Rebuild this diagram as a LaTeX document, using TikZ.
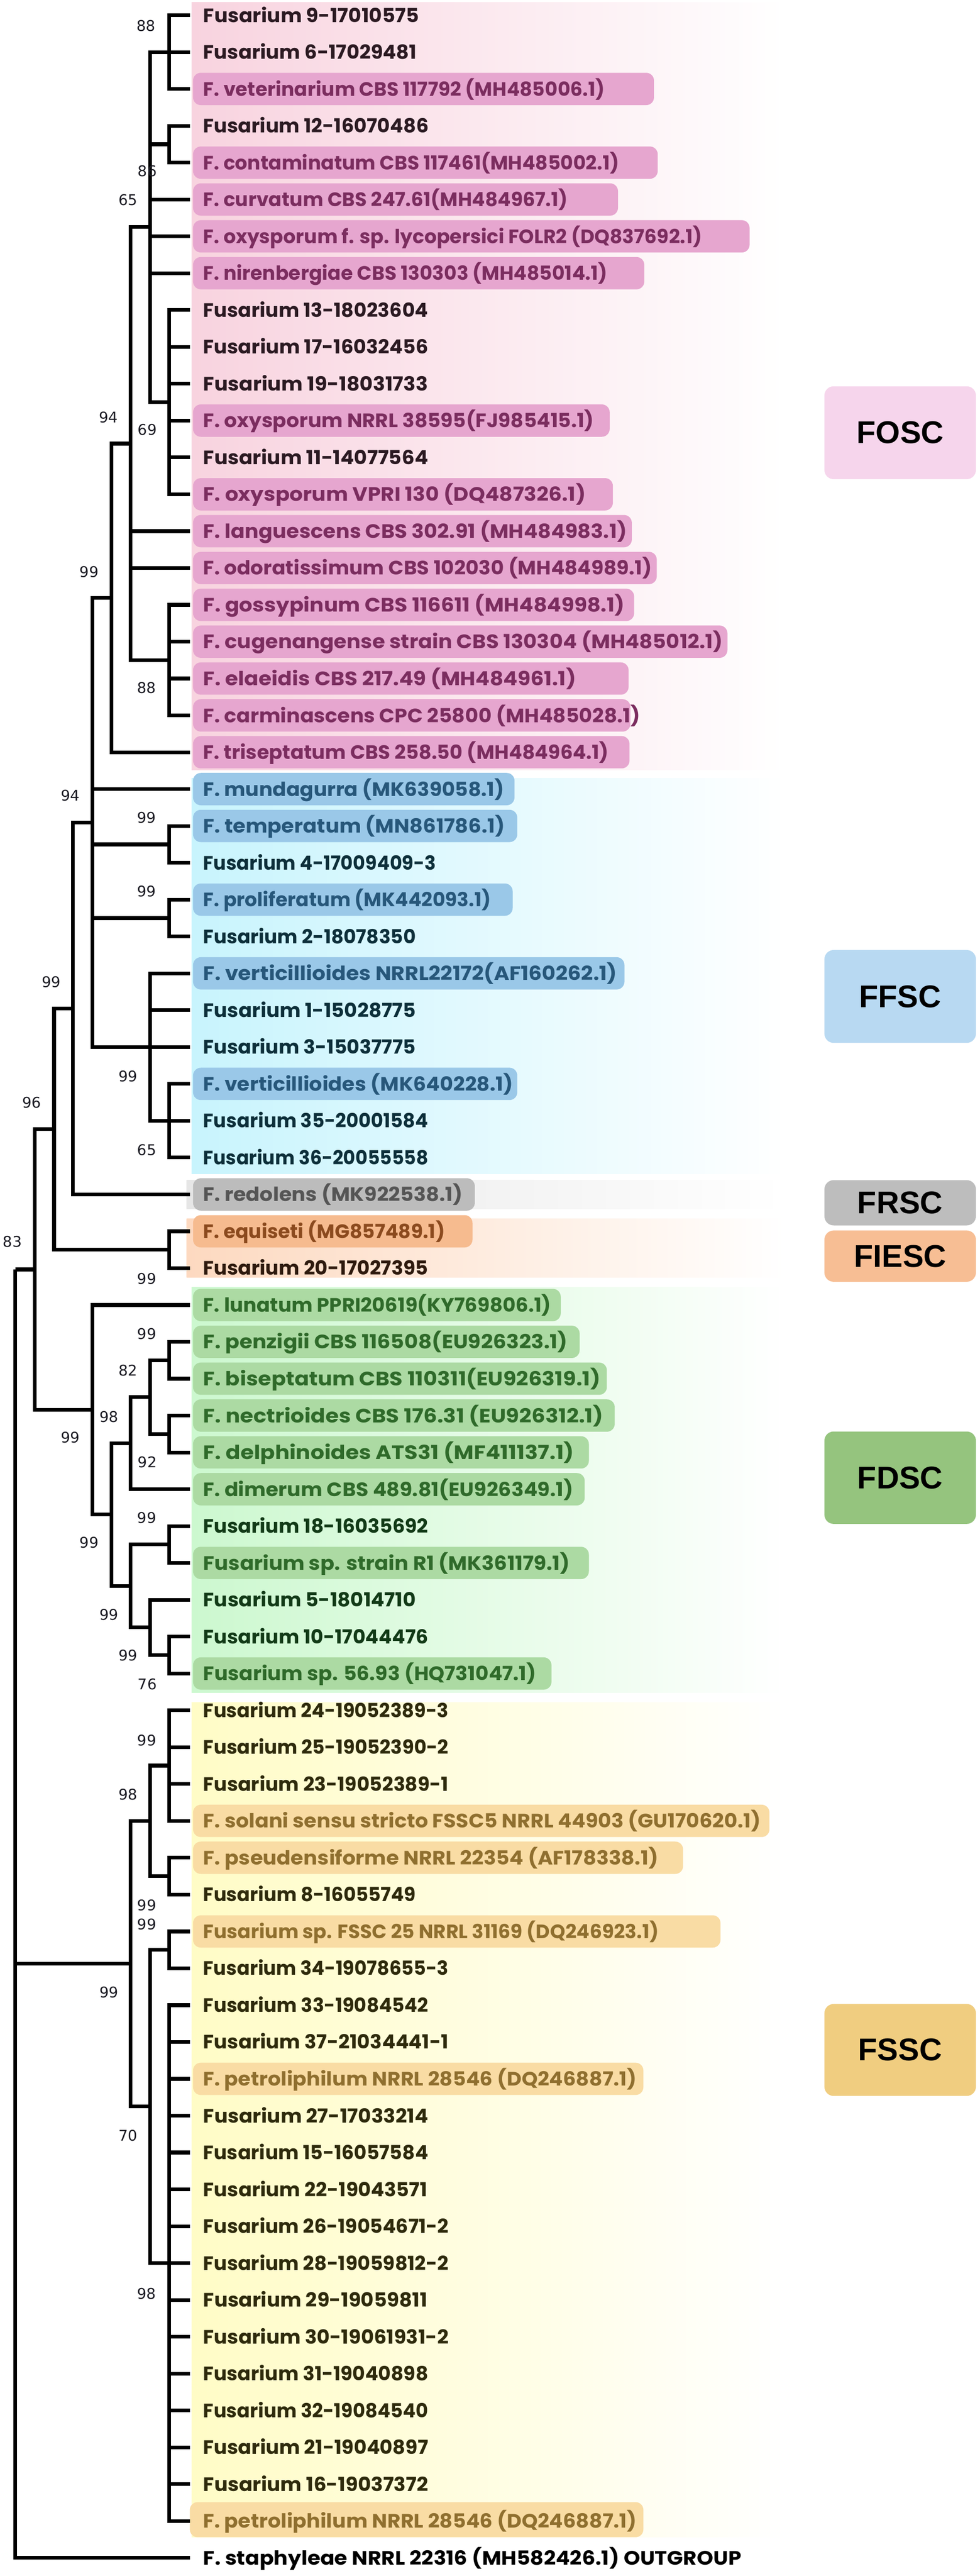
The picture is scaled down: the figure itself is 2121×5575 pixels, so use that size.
\documentclass[tikz,border=0pt]{standalone}
\usepackage{graphicx}
\usepackage{fontspec}
\newfontfamily\leaffont{Poppins}
\newfontfamily\numfont{DejaVu Sans}
\newfontfamily\grpfont{Liberation Sans}
\definecolor{bgFOSC}{HTML}{F8D3DF}
\definecolor{bgFFSC}{HTML}{C8F4FD}
\definecolor{bgFRSC}{HTML}{E6E6E6}
\definecolor{bgFIESC}{HTML}{FDD9C0}
\definecolor{bgFDSC}{HTML}{CCF8CF}
\definecolor{bgFSSC}{HTML}{FFFCC6}
\definecolor{pFOSC}{HTML}{E6A6CF}
\definecolor{pFFSC}{HTML}{9AC8E8}
\definecolor{pFRSC}{HTML}{BCBCBC}
\definecolor{pFIESC}{HTML}{F6BB8F}
\definecolor{pFDSC}{HTML}{ACDAA3}
\definecolor{pFSSC}{HTML}{F9DCA4}
\definecolor{tFOSC}{HTML}{7B2D5F}
\definecolor{tFFSC}{HTML}{27577A}
\definecolor{tFRSC}{HTML}{555555}
\definecolor{tFIESC}{HTML}{8B4A1E}
\definecolor{tFDSC}{HTML}{2F6A2A}
\definecolor{tFSSC}{HTML}{8F6F2F}
\definecolor{kFOSC}{HTML}{2B1A22}
\definecolor{kFFSC}{HTML}{0D2F3A}
\definecolor{kFIESC}{HTML}{2E1A0E}
\definecolor{kFDSC}{HTML}{123A17}
\definecolor{kFSSC}{HTML}{2E2A0C}
\definecolor{gFOSCc}{HTML}{F6D5EC}
\definecolor{gFFSCc}{HTML}{B8D9F2}
\definecolor{gFRSCc}{HTML}{BDBDBD}
\definecolor{gFIESCc}{HTML}{F7BE94}
\definecolor{gFDSCc}{HTML}{95C47E}
\definecolor{gFSSCc}{HTML}{F0CD80}
\definecolor{numc}{HTML}{1A1A22}
% natural-width label
\newcommand{\leafrow}[3]{\node[lbl, text=#2] (t#1) at (440,{33+(#1-1)*79.75+15}) {#3};}
% label set to a given width
\newcommand{\leafw}[4]{\node[lbl, text=#2] (t#1) at (440,{33+(#1-1)*79.75+15}) {\resizebox{#3pt}{\height}{#4}};}
\newcommand{\pillrow}[3]{\fill[#2, rounded corners=17pt] (418,{33+(#1-1)*79.75-35}) rectangle (#3,{33+(#1-1)*79.75+35});}
\begin{document}
\begin{tikzpicture}[x=1pt,y=-1pt,
  br/.style={line width=8pt, line join=miter, draw=black},
  lbl/.style={anchor=base west, inner sep=0pt, font={\leaffont\bfseries\fontsize{42}{42}\selectfont}},
  bs/.style={inner sep=0pt, text=numc, font={\numfont\fontsize{32}{32}\selectfont}},
  grpbox/.style={rounded corners=20pt, minimum width=328pt, inner sep=0pt, text=black, font={\grpfont\bfseries\fontsize{68}{68}\selectfont}}
]
\useasboundingbox (0,0) rectangle (2121,5575);
\fill[white] (0,0) rectangle (2121,5575);
% group backgrounds
\shade[left color=bgFOSC, right color=white] (415,5) rectangle (1700,1666);
\shade[left color=bgFFSC, right color=white] (415,1684) rectangle (1700,2540);
\shade[left color=bgFRSC, right color=white] (404,2554) rectangle (1700,2616);
\shade[left color=bgFIESC, right color=white] (404,2638) rectangle (1700,2765);
\shade[left color=bgFDSC, right color=white] (415,2786) rectangle (1700,3663);
\shade[left color=bgFSSC, right color=white] (415,3684) rectangle (1700,5491);
% group boxes
\node[grpbox, fill=gFOSCc, minimum height=201pt] (gFOSC) at (1949,936.5) {FOSC};
\node[grpbox, fill=gFFSCc, minimum height=201pt] (gFFSC) at (1949,2156.5) {FFSC};
\node[grpbox, fill=gFRSCc, minimum height=98pt] (gFRSC) at (1949,2603) {FRSC};
\node[grpbox, fill=gFIESCc, minimum height=111pt] (gFIESC) at (1949,2718.5) {FIESC};
\node[grpbox, fill=gFDSCc, minimum height=200pt] (gFDSC) at (1949,3198) {FDSC};
\node[grpbox, fill=gFSSCc, minimum height=199pt] (gFSSC) at (1949,4436.5) {FSSC};
% pills
\pillrow{3}{pFOSC}{1416}
\pillrow{5}{pFOSC}{1424}
\pillrow{6}{pFOSC}{1338}
\pillrow{7}{pFOSC}{1623}
\pillrow{8}{pFOSC}{1395}
\pillrow{12}{pFOSC}{1320}
\pillrow{14}{pFOSC}{1327}
\pillrow{15}{pFOSC}{1368}
\pillrow{16}{pFOSC}{1422}
\pillrow{17}{pFOSC}{1373}
\pillrow{18}{pFOSC}{1575}
\pillrow{19}{pFOSC}{1361}
\pillrow{20}{pFOSC}{1365}
\pillrow{21}{pFOSC}{1363}
\pillrow{22}{pFFSC}{1114}
\pillrow{23}{pFFSC}{1120}
\pillrow{25}{pFFSC}{1110}
\pillrow{27}{pFFSC}{1352}
\pillrow{30}{pFFSC}{1120}
\pillrow{33}{pFRSC}{1028}
\pillrow{34}{pFIESC}{1023}
\pillrow{36}{pFDSC}{1214}
\pillrow{37}{pFDSC}{1255}
\pillrow{38}{pFDSC}{1314}
\pillrow{39}{pFDSC}{1331}
\pillrow{40}{pFDSC}{1275}
\pillrow{41}{pFDSC}{1266}
\pillrow{43}{pFDSC}{1275}
\pillrow{46}{pFDSC}{1194}
\pillrow{50}{pFSSC}{1666}
\pillrow{51}{pFSSC}{1479}
\pillrow{53}{pFSSC}{1560}
\pillrow{57}{pFSSC}{1393}
\fill[pFSSC, rounded corners=17pt] (411,5415) rectangle (1393,5491);
% tips
\foreach \i in {1,...,70} \coordinate (L\i) at (411,{33+(\i-1)*79.75});
% internal nodes
\coordinate (nA) at (366,112.75);
\coordinate (nB) at (366,312.125);
\coordinate (nF) at (366,870.375);
\coordinate (nC) at (325,491.5625);
\coordinate (nE) at (366,1428.625);
\coordinate (nD) at (283,960.09);
\coordinate (nG) at (241,1294.05);
\coordinate (nH1) at (366,1827.375);
\coordinate (nH2) at (366,1986.875);
\coordinate (nK) at (366,2425.5);
\coordinate (nJ) at (325,2266);
\coordinate (nH) at (200,1780.03);
\coordinate (nL) at (158,2182.5);
\coordinate (nI) at (366,2704.625);
\coordinate (nM) at (117,2443.56);
\coordinate (nU) at (366,2943.875);
\coordinate (nV) at (366,3103.375);
\coordinate (nT) at (325,3023.625);
\coordinate (nR) at (283,3123.31);
\coordinate (nW) at (366,3342.625);
\coordinate (nY) at (366,3581.875);
\coordinate (nX) at (325,3522.06);
\coordinate (nS) at (283,3432.34);
\coordinate (nQ) at (241,3277.83);
\coordinate (nP) at (200,3051.04);
\coordinate (nN) at (75,2747.3);
\coordinate (nZ1) at (366,3821.125);
\coordinate (nZ3) at (366,4060.375);
\coordinate (nZ2) at (325,3940.75);
\coordinate (nAA) at (366,4219.875);
\coordinate (nAC) at (366,4897.75);
\coordinate (nAB) at (325,4558.81);
\coordinate (nZ4) at (283,4249.78);
\coordinate (root) at (33,2747.3);
% branches
\foreach \p/\c in {nA/L1,nA/L2,nA/L3,nB/L4,nB/L5,
  nF/L9,nF/L10,nF/L11,nF/L12,nF/L13,nF/L14,
  nC/nA,nC/nB,nC/L6,nC/L7,nC/L8,nC/nF,
  nE/L17,nE/L18,nE/L19,nE/L20,
  nD/nC,nD/L15,nD/L16,nD/nE,
  nG/nD,nG/L21,
  nH1/L23,nH1/L24,nH2/L25,nH2/L26,
  nK/L30,nK/L31,nK/L32,
  nJ/L27,nJ/L28,nJ/L29,nJ/nK,
  nH/nG,nH/L22,nH/nH1,nH/nH2,nH/nJ,
  nL/nH,nL/L33,
  nI/L34,nI/L35,
  nM/nL,nM/nI,
  nU/L37,nU/L38,nV/L39,nV/L40,
  nT/nU,nT/nV,nR/nT,nR/L41,
  nW/L42,nW/L43,nY/L45,nY/L46,
  nX/L44,nX/nY,nS/nW,nS/nX,
  nQ/nR,nQ/nS,nP/L36,nP/nQ,
  nN/nM,nN/nP,
  nZ1/L47,nZ1/L48,nZ1/L49,nZ1/L50,
  nZ3/L51,nZ3/L52,nZ2/nZ1,nZ2/nZ3,
  nAA/L53,nAA/L54,
  nAC/L55,nAC/L56,nAC/L57,nAC/L58,nAC/L59,nAC/L60,nAC/L61,nAC/L62,
  nAC/L63,nAC/L64,nAC/L65,nAC/L66,nAC/L67,nAC/L68,nAC/L69,
  nAB/nAA,nAB/nAC,nZ4/nZ2,nZ4/nAB,
  root/nN,root/nZ4,root/L70}
  \draw[br] (\p) |- (\c);
% leaf labels
\leafw{1}{kFOSC}{467}{Fusarium 9-17010575}
\leafw{2}{kFOSC}{462}{Fusarium 6-17029481}
\leafrow{3}{tFOSC}{F. veterinarium CBS 117792 (MH485006.1)}
\leafw{4}{kFOSC}{488}{Fusarium 12-16070486}
\leafrow{5}{tFOSC}{F. contaminatum CBS 117461(MH485002.1)}
\leafrow{6}{tFOSC}{F. curvatum CBS 247.61(MH484967.1)}
\leafrow{7}{tFOSC}{F. oxysporum f. sp. lycopersici FOLR2 (DQ837692.1)}
\leafrow{8}{tFOSC}{F. nirenbergiae CBS 130303 (MH485014.1)}
\leafw{9}{kFOSC}{487}{Fusarium 13-18023604}
\leafw{10}{kFOSC}{487}{Fusarium 17-16032456}
\leafw{11}{kFOSC}{487}{Fusarium 19-18031733}
\leafw{12}{tFOSC}{846}{F. oxysporum NRRL 38595(FJ985415.1)}
\leafw{13}{kFOSC}{487}{Fusarium 11-14077564}
\leafw{14}{tFOSC}{828}{F. oxysporum VPRI 130 (DQ487326.1)}
\leafw{15}{tFOSC}{917}{F. languescens CBS 302.91 (MH484983.1)}
\leafw{16}{tFOSC}{971}{F. odoratissimum CBS 102030 (MH484989.1)}
\leafw{17}{tFOSC}{912}{F. gossypinum CBS 116611 (MH484998.1)}
\leafw{18}{tFOSC}{1125}{F. cugenangense strain CBS 130304 (MH485012.1)}
\leafw{19}{tFOSC}{807}{F. elaeidis CBS 217.49 (MH484961.1)}
\leafw{20}{tFOSC}{946}{F. carminascens CPC 25800 (MH485028.1)}
\leafw{21}{tFOSC}{878}{F. triseptatum CBS 258.50 (MH484964.1)}
\leafw{22}{tFFSC}{651}{F. mundagurra (MK639058.1)}
\leafw{23}{tFFSC}{653}{F. temperatum (MN861786.1)}
\leafw{24}{kFFSC}{504}{Fusarium 4-17009409-3}
\leafrow{25}{tFFSC}{F. proliferatum (MK442093.1)}
\leafw{26}{kFFSC}{460}{Fusarium 2-18078350}
\leafw{27}{tFFSC}{896}{F. verticillioides NRRL22172(AF160262.1)}
\leafw{28}{kFFSC}{460}{Fusarium 1-15028775}
\leafw{29}{kFFSC}{460}{Fusarium 3-15037775}
\leafw{30}{tFFSC}{671}{F. verticillioides (MK640228.1)}
\leafw{31}{kFFSC}{487}{Fusarium 35-20001584}
\leafw{32}{kFFSC}{487}{Fusarium 36-20055558}
\leafw{33}{tFRSC}{562}{F. redolens (MK922538.1)}
\leafrow{34}{tFIESC}{F. equiseti (MG857489.1)}
\leafw{35}{kFIESC}{487}{Fusarium 20-17027395}
\leafw{36}{tFDSC}{753}{F. lunatum PPRI20619(KY769806.1)}
\leafw{37}{tFDSC}{789}{F. penzigii CBS 116508(EU926323.1)}
\leafw{38}{tFDSC}{860}{F. biseptatum CBS 110311(EU926319.1)}
\leafw{39}{tFDSC}{866}{F. nectrioides CBS 176.31 (EU926312.1)}
\leafw{40}{tFDSC}{803}{F. delphinoides ATS31 (MF411137.1)}
\leafw{41}{tFDSC}{801}{F. dimerum CBS 489.81(EU926349.1)}
\leafw{42}{kFDSC}{487}{Fusarium 18-16035692}
\leafw{43}{tFDSC}{794}{Fusarium sp. strain R1 (MK361179.1)}
\leafw{44}{kFDSC}{460}{Fusarium 5-18014710}
\leafw{45}{kFDSC}{487}{Fusarium 10-17044476}
\leafw{46}{tFDSC}{721}{Fusarium sp. 56.93 (HQ731047.1)}
\leafw{47}{kFSSC}{531}{Fusarium 24-19052389-3}
\leafw{48}{kFSSC}{531}{Fusarium 25-19052390-2}
\leafw{49}{kFSSC}{531}{Fusarium 23-19052389-1}
\leafw{50}{tFSSC}{1207}{F. solani sensu stricto FSSC5 NRRL 44903 (GU170620.1)}
\leafw{51}{tFSSC}{985}{F. pseudensiforme NRRL 22354 (AF178338.1)}
\leafw{52}{kFSSC}{460}{Fusarium 8-16055749}
\leafrow{53}{tFSSC}{Fusarium sp. FSSC 25 NRRL 31169 (DQ246923.1)}
\leafw{54}{kFSSC}{531}{Fusarium 34-19078655-3}
\leafw{55}{kFSSC}{487}{Fusarium 33-19084542}
\leafw{56}{kFSSC}{531}{Fusarium 37-21034441-1}
\leafw{57}{tFSSC}{938}{F. petroliphilum NRRL 28546 (DQ246887.1)}
\leafw{58}{kFSSC}{487}{Fusarium 27-17033214}
\leafw{59}{kFSSC}{487}{Fusarium 15-16057584}
\leafw{60}{kFSSC}{485}{Fusarium 22-19043571}
\leafw{61}{kFSSC}{531}{Fusarium 26-19054671-2}
\leafw{62}{kFSSC}{531}{Fusarium 28-19059812-2}
\leafw{63}{kFSSC}{485}{Fusarium 29-19059811}
\leafw{64}{kFSSC}{531}{Fusarium 30-19061931-2}
\leafw{65}{kFSSC}{487}{Fusarium 31-19040898}
\leafw{66}{kFSSC}{487}{Fusarium 32-19084540}
\leafw{67}{kFSSC}{487}{Fusarium 21-19040897}
\leafw{68}{kFSSC}{487}{Fusarium 16-19037372}
\leafw{69}{tFSSC}{938}{F. petroliphilum NRRL 28546 (DQ246887.1)}
\leafw{70}{black}{1165}{F. staphyleae NRRL 22316 (MH582426.1) OUTGROUP}
% bootstrap values
\node[bs] (b1) at (316,56) {88};
\node[bs] (b2) at (319,370) {86};
\node[bs] (b3) at (277,433) {65};
\node[bs] (b4) at (319,930) {69};
\node[bs] (b5) at (235,903) {94};
\node[bs] (b6) at (193,1238) {99};
\node[bs] (b7) at (317,1489) {88};
\node[bs] (b8) at (152,1722) {94};
\node[bs] (b9) at (317,1770) {99};
\node[bs] (b10) at (317,1929) {99};
\node[bs] (b11) at (277,2329) {99};
\node[bs] (b12) at (318,2489) {65};
\node[bs] (b13) at (111,2125) {99};
\node[bs] (b14) at (69,2386) {96};
\node[bs] (b15) at (318,2767) {99};
\node[bs] (b16) at (27,2687) {83};
\node[bs] (b17) at (152,3111) {99};
\node[bs] (b18) at (318,2887) {99};
\node[bs] (b19) at (277,2966) {82};
\node[bs] (b20) at (236,3066) {98};
\node[bs] (b21) at (319,3164) {92};
\node[bs] (b22) at (318,3285) {99};
\node[bs] (b23) at (193,3338) {99};
\node[bs] (b24) at (236,3494) {99};
\node[bs] (b25) at (277,3583) {99};
\node[bs] (b26) at (319,3645) {76};
\node[bs] (b27) at (318,3766) {99};
\node[bs] (b28) at (277,3884) {98};
\node[bs] (b29) at (318,4123) {99};
\node[bs] (b30) at (318,4165) {99};
\node[bs] (b31) at (236,4312) {99};
\node[bs] (b32) at (277,4622) {70};
\node[bs] (b33) at (317,4964) {98};
\end{tikzpicture}
\end{document}
